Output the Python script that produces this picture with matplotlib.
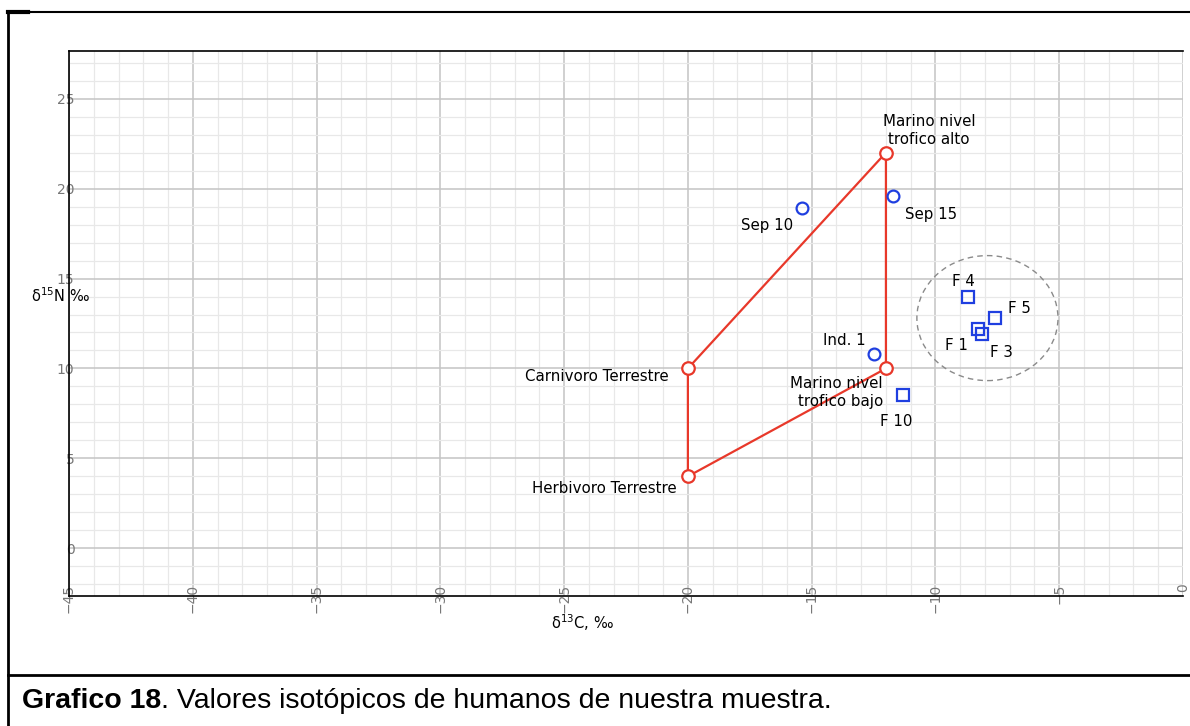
import matplotlib
matplotlib.use("Agg")
import matplotlib.pyplot as plt
from matplotlib.lines import Line2D
from matplotlib.patches import Ellipse
from matplotlib.ticker import MultipleLocator

# reference end-members (d13C, d15N)
ref_labels = ["Herbivoro Terrestre", "Carnivoro Terrestre",
              "Marino nivel\ntrofico alto", "Marino nivel\ntrofico bajo"]
ref_c13 = [-20, -20, -12, -12]
ref_n15 = [4, 10, 22, 10]

# individuals (circles)
ind_labels = ["Sep 10", "Sep 15", "Ind. 1"]
ind_c13 = [-15.4, -11.7, -12.5]
ind_n15 = [18.9, 19.6, 10.8]

# F samples (squares)
f_labels = ["F 1", "F 3", "F 4", "F 5", "F 10"]
f_c13 = [-8.3, -8.1, -8.7, -7.6, -11.3]
f_n15 = [12.2, 11.9, 14.0, 12.8, 8.55]

x_ticks = [-45, -40, -35, -30, -25, -20, -15, -10, -5, 0]
y_ticks = [0, 5, 10, 15, 20, 25]

RED = "#e8382a"
BLUE = "#1f3fe0"

fig = plt.figure(figsize=(11.9, 7.26), dpi=100)
ax = fig.add_axes([69 / 1190, 1 - 596 / 726, (1183 - 69) / 1190, (596 - 51) / 726])

ax.set_xlim(-45, 0)
ax.set_ylim(-2.65, 27.65)
ax.set_xticks(x_ticks)
ax.set_yticks(y_ticks)
ax.xaxis.set_minor_locator(MultipleLocator(1))
ax.yaxis.set_minor_locator(MultipleLocator(1))
ax.grid(which="major", color="#c4c4c4", lw=1.1, zorder=0)
ax.grid(which="minor", color="#e8e8e8", lw=0.9, zorder=0)
ax.set_axisbelow(True)

ax.tick_params(which="both", length=0)
ax.tick_params(axis="x", labelrotation=90, pad=-9, labelsize=10, labelcolor="#777777")
ax.tick_params(axis="y", pad=-4, labelsize=10, labelcolor="#777777")
for lab in ax.get_xticklabels():
    lab.set_va("top")

ax.spines["right"].set_visible(False)
for s in ("left", "bottom", "top"):
    ax.spines[s].set_linewidth(1.2)

ax.set_xlabel(r"δ$^{13}$C, ‰", fontsize=10.5)
ax.xaxis.set_label_coords(0.461, -0.03)
ax.set_ylabel(r"δ$^{15}$N ‰", fontsize=10.5, rotation=0, ha="center", va="center")
ax.yaxis.set_label_coords(-0.008, 0.552)

# end-member polygon
poly_x = ref_c13 + [ref_c13[0]]
poly_y = ref_n15 + [ref_n15[0]]
ax.plot(poly_x, poly_y, color=RED, lw=1.6, zorder=3)
ax.plot(ref_c13, ref_n15, "o", ms=9, mfc="white", mec=RED, mew=1.6, zorder=4)

ax.plot(ind_c13, ind_n15, "o", ms=8.5, mfc="none", mec=BLUE, mew=1.6, zorder=4)
ax.plot(f_c13, f_n15, "s", ms=8.5, mfc="none", mec=BLUE, mew=1.6, zorder=4)

# cluster of F samples
ax.add_patch(Ellipse((-7.9, 12.8), 5.7, 6.95, fill=False, ec="#8a8a8a",
                     ls=(0, (4, 3)), lw=1.0, zorder=2))

# label offsets in pixels: (dx, dy, ha)
ref_off = [(-11, -12, "right"), (-19, -8, "right"), (43, 22, "center"), (-3, -24, "right")]
ind_off = [(-9, -17, "right"), (12, -19, "left"), (-8, 14, "right")]
f_off = [(-21, -17, "center"), (19, -18, "center"), (-4, 15, "center"),
         (13, 10, "left"), (-7, -27, "center")]

def put_labels(labels, xs, ys, offs):
    for t, x, y, (dx, dy, ha) in zip(labels, xs, ys, offs):
        ax.annotate(t, (x, y), xytext=(dx, dy), textcoords="offset pixels",
                    ha=ha, va="center", multialignment=ha, fontsize=10.8,
                    linespacing=1.3, zorder=5)

put_labels(ref_labels, ref_c13, ref_n15, ref_off)
put_labels(ind_labels, ind_c13, ind_n15, ind_off)
put_labels(f_labels, f_c13, f_n15, f_off)

# table frame around the figure
W, H = 1190, 726
def fline(x0, y0, x1, y1, lw=1.8):
    fig.add_artist(Line2D([x0 / W, x1 / W], [1 - y0 / H, 1 - y1 / H],
                          color="black", lw=lw, transform=fig.transFigure))

fline(8, 12, W, 12, 1.5)
fline(8, 12, 28, 12, 3)
fline(8, 12, 8, H, 2)
fline(8, 675, W, 675, 2)

t1 = fig.text(22 / W, 1 - 708 / H, "Grafico 18", fontsize=20.5, fontweight="bold",
              family="Liberation Sans", va="baseline")
ax.annotate(". Valores isotópicos de humanos de nuestra muestra.", xy=(1, 0),
            xycoords=t1, va="bottom", ha="left", fontsize=20.5,
            family="Liberation Sans", annotation_clip=False)

fig.savefig("out.png", dpi=100)
